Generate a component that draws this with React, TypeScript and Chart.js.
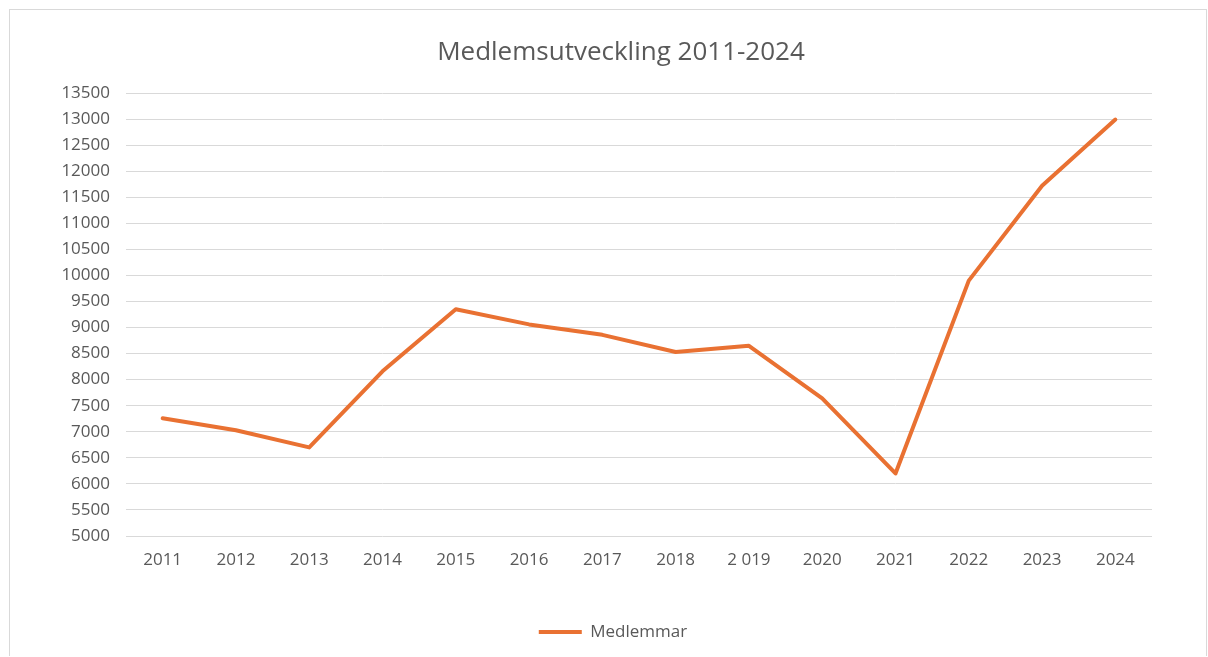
import React, { useEffect, useRef } from "react";
import { Chart, registerables } from "chart.js";

Chart.register(...registerables);

const title = "Medlemsutveckling 2011-2024";
const categories = ["2011", "2012", "2013", "2014", "2015", "2016", "2017", "2018", "2 019", "2020", "2021", "2022", "2023", "2024"];
const seriesName = "Medlemmar";
const members = [7260, 7030, 6700, 8160, 9350, 9060, 8860, 8530, 8650, 7640, 6200, 9900, 11720, 12990];
const yMin = 5000;
const yMax = 13500;
const yStep = 500;

const ORANGE = "#E97132";
const TEXT = "#595959";
const GRID = "#D9D9D9";
const FONT = "'Open Sans', sans-serif";

const shiftBoxes = {
  id: "shiftBoxes",
  afterLayout(chart: any) {
    const lg = chart.legend;
    if (lg) {
      lg.left += 32;
      lg.right += 32;
    }
    const tt = chart.titleBlock;
    if (tt) {
      tt.left += 40;
      tt.right += 40;
    }
  },
};

export default function App() {
  const ref = useRef<HTMLCanvasElement | null>(null);

  useEffect(() => {
    document.body.style.overflow = "hidden";
    const canvas = ref.current;
    if (!canvas) return;
    const chart = new Chart(canvas, {
      type: "line",
      data: {
        labels: categories,
        datasets: [
          {
            label: seriesName,
            data: members,
            borderColor: ORANGE,
            backgroundColor: ORANGE,
            borderWidth: 4,
            pointRadius: 0,
            pointHoverRadius: 0,
            tension: 0,
            borderCapStyle: "round",
            borderJoinStyle: "round",
          },
        ],
      },
      plugins: [shiftBoxes],
      options: {
        animation: false,
        responsive: true,
        maintainAspectRatio: false,
        layout: { padding: { left: 0, right: 54, top: 0, bottom: 5.5 } },
        plugins: {
          title: {
            display: true,
            text: title,
            color: TEXT,
            font: { family: FONT, size: 26, weight: "normal", lineHeight: 1.2 },
            padding: { top: 26.9, bottom: 24.9 },
          },
          legend: {
            display: true,
            position: "bottom",
            labels: {
              color: TEXT,
              font: { family: FONT, size: 17 },
              boxWidth: 43,
              boxHeight: 4,
              padding: 10,
              generateLabels: (c: any) =>
                c.data.datasets.map((ds: any, i: number) => ({
                  text: ds.label,
                  fillStyle: ORANGE,
                  strokeStyle: ORANGE,
                  lineWidth: 0,
                  fontColor: TEXT,
                  hidden: false,
                  datasetIndex: i,
                })),
            },
          },
          tooltip: { enabled: false },
        },
        scales: {
          x: {
            offset: true,
            grid: { display: false, drawTicks: false },
            border: { display: false },
            ticks: {
              color: TEXT,
              font: { family: FONT, size: 17 },
              padding: 14,
              maxRotation: 0,
              autoSkip: false,
            },
            afterFit: (s: any) => {
              s.height = 77.5;
            },
          },
          y: {
            min: yMin,
            max: yMax,
            grid: { color: GRID, lineWidth: 1, drawTicks: false },
            border: { display: false },
            ticks: {
              stepSize: yStep,
              color: TEXT,
              font: { family: FONT, size: 17 },
              padding: 16,
              callback: (v: any) => String(v),
            },
            afterFit: (s: any) => {
              s.width = 116;
            },
          },
        },
      },
    });
    return () => chart.destroy();
  }, []);

  return (
    <div
      style={{
        position: "absolute",
        left: 9,
        top: 9,
        width: 1196,
        height: 646,
        borderTop: "1px solid #D9D9D9",
        borderLeft: "1px solid #D9D9D9",
        borderRight: "1px solid #D9D9D9",
        background: "#fff",
      }}
    >
      <div style={{ position: "relative", width: 1196, height: 646 }}>
        <canvas ref={ref} />
      </div>
    </div>
  );
}
